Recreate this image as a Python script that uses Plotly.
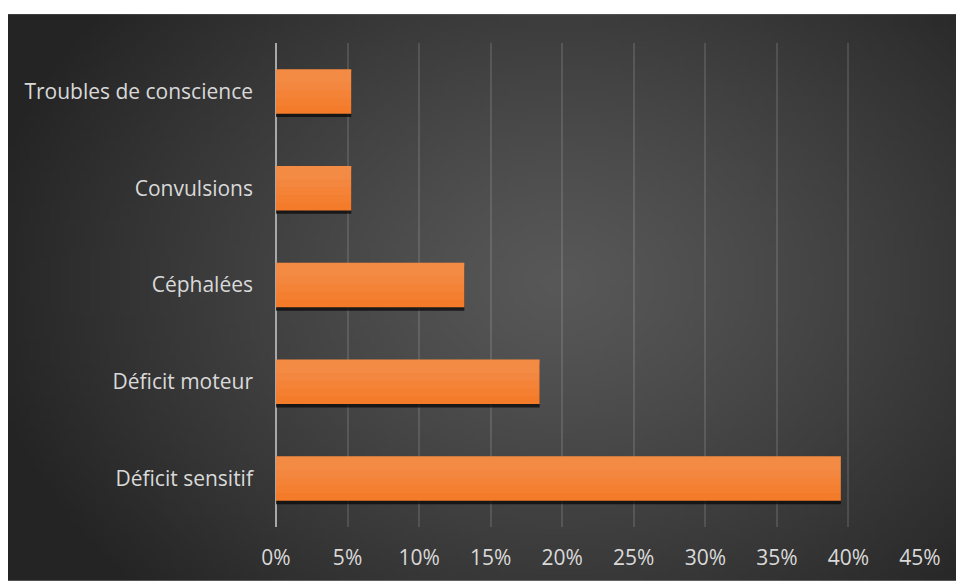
import base64, struct, zlib
import plotly.graph_objects as go

# ---- data ----
categories = ["Déficit sensitif", "Déficit moteur", "Céphalées", "Convulsions", "Troubles de conscience"]
values = [0.3947, 0.1842, 0.1316, 0.0526, 0.0526]
x_ticks = [0, 0.05, 0.10, 0.15, 0.20, 0.25, 0.30, 0.35, 0.40, 0.45]
x_labels = ["0%", "5%", "10%", "15%", "20%", "25%", "30%", "35%", "40%", "45%"]

# ---- radial gradient background as png ----
def make_png(w, h, center, edge, cx, cy, rx, ry):
    rows = b""
    for j in range(h):
        row = b"\x00"
        for i in range(w):
            d = (((i - cx) / rx) ** 2 + ((j - cy) / ry) ** 2) ** 0.5
            t = min(d, 1.0) ** 1.2
            c = [int(center[k] + (edge[k] - center[k]) * t) for k in range(3)]
            row += bytes(c)
        rows += row
    def chunk(tag, data):
        return struct.pack(">I", len(data)) + tag + data + struct.pack(">I", zlib.crc32(tag + data) & 0xffffffff)
    png = b"\x89PNG\r\n\x1a\n"
    png += chunk(b"IHDR", struct.pack(">IIBBBBB", w, h, 8, 2, 0, 0, 0))
    png += chunk(b"IDAT", zlib.compress(rows, 9))
    png += chunk(b"IEND", b"")
    return "data:image/png;base64," + base64.b64encode(png).decode()

W, H = 190, 114
bg = make_png(W, H, (88, 88, 88), (36, 36, 36), W * 0.58, H * 0.47, W * 0.62, H * 0.80)

# page geometry
L, R, T, B = 276, 36, 43, 54
PW, PH = 956 - L - R, 583 - T - B

fig = go.Figure()
fig.add_trace(go.Bar(y=categories, x=values, orientation="h", width=0.46, offset=-0.265,
                     marker=dict(color="rgba(10,10,10,0.75)", line=dict(width=0)), hoverinfo="skip"))
fig.add_trace(go.Bar(y=categories, x=values, orientation="h", width=0.46, offset=-0.23,
                     marker=dict(color="#F47B2A", line=dict(width=0)), hoverinfo="skip"))
highlight = [(0.38, -0.15, 0.035), (0.30, -0.07, 0.035), (0.22, 0.01, 0.035), (0.14, 0.09, 0.035)]
for w_, off, a in highlight:
    fig.add_trace(go.Bar(y=categories, x=values, orientation="h", width=w_, offset=off,
                         marker=dict(color=f"rgba(255,255,255,{a})", line=dict(width=0)),
                         hoverinfo="skip"))

fig.update_layout(
    width=956, height=583,
    margin=dict(l=L, r=R, t=T, b=B),
    paper_bgcolor="white",
    plot_bgcolor="rgba(0,0,0,0)",
    barmode="overlay",
    showlegend=False,
    font=dict(family="Open Sans, Lato, sans-serif", color="#d9d9d9", size=21),
    images=[dict(source=bg, xref="paper", yref="paper",
                 x=(8 - L) / PW, y=(583 - B - 14) / PH,
                 sizex=948 / PW, sizey=569 / PH,
                 xanchor="left", yanchor="top", sizing="stretch", layer="below")],
    xaxis=dict(range=[0, 0.45], tickvals=x_ticks, ticktext=x_labels,
               showgrid=True, gridcolor="rgba(255,255,255,0.12)", gridwidth=2,
               zeroline=True, zerolinecolor="#a8a8a8", zerolinewidth=2,
               showline=False, ticks="", ticklabelstandoff=16,
               tickfont=dict(size=21, color="#d9d9d9"), fixedrange=True),
    yaxis=dict(categoryorder="array", categoryarray=categories,
               showgrid=False, zeroline=False, showline=False, ticks="",
               ticklabelstandoff=22, tickfont=dict(size=21, color="#d9d9d9"),
               range=[-0.5, 4.5], fixedrange=True),
)

fig.write_html("out.html")
